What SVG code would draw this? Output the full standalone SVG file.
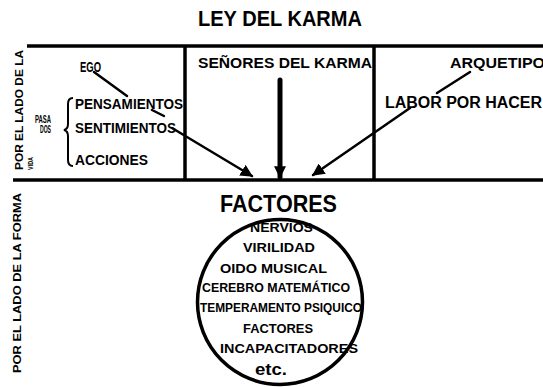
<svg xmlns="http://www.w3.org/2000/svg" width="543" height="387" viewBox="0 0 543 387">
<defs>
<style>
text{font-family:"Liberation Sans",Arial,sans-serif;font-weight:bold;fill:#000}
.rule{stroke:#000;stroke-width:3.5;fill:none}
.conn{stroke:#000;stroke-width:2.5;fill:none;stroke-linecap:round}
.thick{stroke-width:5}
.s14{font-size:14px}
.s13{font-size:13px}
</style>
<marker id="ah" viewBox="0 0 10 10" refX="9" refY="5" markerWidth="5" markerHeight="5" orient="auto" markerUnits="strokeWidth">
<path d="M0,0 L10,5 L0,10 Z" fill="#000"/>
</marker>
<marker id="ahb" viewBox="0 0 10 10" refX="9" refY="5" markerWidth="2.8" markerHeight="2.4" orient="auto" markerUnits="strokeWidth">
<path d="M0,0 L10,5 L0,10 Z" fill="#000"/>
</marker>
</defs>
<rect width="543" height="387" fill="#fff"/>
<text id="title" x="198" y="26" font-size="22" textLength="164" lengthAdjust="spacingAndGlyphs">LEY DEL KARMA</text>
<g id="frame">
<line class="rule" x1="27" y1="46" x2="543" y2="46"/>
<line class="rule" x1="13" y1="180" x2="543" y2="180"/>
<line class="rule" x1="185" y1="46" x2="185" y2="180"/>
<line class="rule" x1="374" y1="46" x2="374" y2="180"/>
</g>
<g id="side-labels">
<text transform="translate(23,170) rotate(-90)" font-size="10" textLength="120" lengthAdjust="spacingAndGlyphs">POR EL LADO DE LA</text>
<text transform="translate(33,170) rotate(-90)" font-size="7" textLength="13" lengthAdjust="spacingAndGlyphs">VIDA</text>
<text transform="translate(21,373) rotate(-90)" font-size="10" textLength="180" lengthAdjust="spacingAndGlyphs">POR EL LADO DE LA FORMA</text>
</g>
<g id="ego">
<text class="s14" x="80" y="72" textLength="21" lengthAdjust="spacingAndGlyphs">EGO</text>
</g>
<g id="pasados">
<text x="35" y="123" font-size="10" textLength="16" lengthAdjust="spacingAndGlyphs">PASA</text>
<text x="40" y="133" font-size="10" textLength="11" lengthAdjust="spacingAndGlyphs">DOS</text>
<path d="M73,98 Q68,98 68,104 L68,124 Q68,129 64,130 Q68,131 68,136 L68,160 Q68,166 73,166" fill="none" stroke="#000" stroke-width="2"/>
</g>
<g id="pensamientos"><text class="s14" x="75" y="109" textLength="108" lengthAdjust="spacingAndGlyphs">PENSAMIENTOS</text></g>
<g id="sentimientos"><text class="s14" x="75" y="133" textLength="101" lengthAdjust="spacingAndGlyphs">SENTIMIENTOS</text></g>
<g id="acciones"><text class="s14" x="75" y="165" textLength="73" lengthAdjust="spacingAndGlyphs">ACCIONES</text></g>
<g id="senores"><text class="s14" x="198" y="68" textLength="174" lengthAdjust="spacingAndGlyphs">SEÑORES DEL KARMA</text></g>
<g id="arquetipo"><text class="s14" x="450" y="68" textLength="95" lengthAdjust="spacingAndGlyphs">ARQUETIPO</text></g>
<g id="labor"><text x="385" y="108" font-size="16" textLength="157" lengthAdjust="spacingAndGlyphs">LABOR POR HACER</text></g>
<g id="connectors">
<line class="conn" x1="94" y1="72" x2="127" y2="96"/>
<line class="conn" x1="152" y1="110" x2="164" y2="116"/>
<line class="conn" x1="172" y1="128" x2="252" y2="176" marker-end="url(#ah)"/>
<line class="conn thick" x1="280" y1="80" x2="280" y2="177" marker-end="url(#ahb)"/>
<line class="conn" x1="410" y1="108" x2="313" y2="175" marker-end="url(#ah)"/>
<line class="conn" x1="470" y1="72" x2="437" y2="93"/>
</g>
<g id="factores">
<text x="220" y="212" font-size="23" textLength="117" lengthAdjust="spacingAndGlyphs">FACTORES</text>
<circle cx="280" cy="302" r="82.5" fill="none" stroke="#000" stroke-width="3.5"/>
<text class="s13" x="250" y="232" textLength="63" lengthAdjust="spacingAndGlyphs">NERVIOS</text>
<text class="s13" x="243" y="252" textLength="72" lengthAdjust="spacingAndGlyphs">VIRILIDAD</text>
<text class="s13" x="220" y="273" textLength="107" lengthAdjust="spacingAndGlyphs">OIDO MUSICAL</text>
<text class="s13" x="202" y="292" textLength="148" lengthAdjust="spacingAndGlyphs">CEREBRO MATEMÁTICO</text>
<text class="s13" x="200" y="312" textLength="162" lengthAdjust="spacingAndGlyphs">TEMPERAMENTO PSIQUICO</text>
<text class="s13" x="243" y="333" textLength="70" lengthAdjust="spacingAndGlyphs">FACTORES</text>
<text class="s13" x="220" y="353" textLength="138" lengthAdjust="spacingAndGlyphs">INCAPACITADORES</text>
<text x="255" y="375" font-size="17" textLength="32" lengthAdjust="spacingAndGlyphs">etc.</text>
</g>
</svg>
